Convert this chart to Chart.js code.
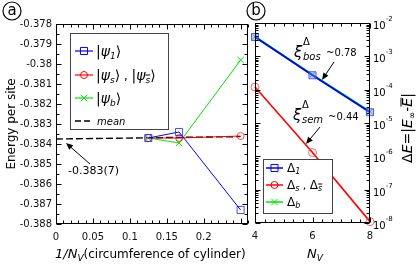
<!DOCTYPE html>
<html><head><meta charset="utf-8">
<script src="https://cdn.jsdelivr.net/npm/chart.js@4"></script>
<style>
html,body{margin:0;padding:0;background:#fff;}
#wrap{position:relative;width:416px;height:265px;overflow:hidden;}
canvas{position:absolute;left:0;top:0;}
</style></head><body>
<div id="wrap"><canvas id="cA" width="416" height="265"></canvas><canvas id="cB" width="416" height="265"></canvas></div>
<script>
// ---- data: panel (a) ----
const xTickLabels = ['0','0.05','0.1','0.15','0.2'];
const yTickLabels = ['-0.378','-0.379','-0.38','-0.381','-0.382','-0.383','-0.384','-0.385','-0.386','-0.387','-0.388'];
const invNv = [0.125, 0.1667, 0.25];
const psi1 = [-0.3837, -0.3834, -0.3873];
const psiS = [-0.3837, -0.3837, -0.3836];
const psiB = [-0.3837, -0.38395, -0.3798];
const meanX = [0, 0.25];
const meanY = [-0.38375, -0.38363];
// ---- data: panel (b) ----
const nvTickLabels = ['4','6','8'];
const logTickExps = ['-2','-3','-4','-5','-6','-7','-8'];
const nv = [4, 6, 8];
const delta1 = [3.8e-3, 2.7e-4, 2.1e-5];
const deltaS = [1.2e-4, 1.3e-6, 1.1e-8];
const deltaB = [3.9e-3, 2.8e-4, 2.2e-5];

const FF = "'DejaVu Sans', sans-serif";
Chart.defaults.font.family = FF;
Chart.defaults.color = '#000';
const BLUE = '#0000ff', RED = '#ff0000', GREEN = '#00e400';

function ser(xs, ys, color, style, r, w, extra) {
  return Object.assign({
    data: xs.map((x, i) => ({x: x, y: ys[i]})), showLine: true, tension: 0,
    borderColor: color, backgroundColor: 'rgba(0,0,0,0)', borderWidth: w,
    pointStyle: style, pointRadius: r, pointBorderColor: color,
    pointBackgroundColor: 'rgba(0,0,0,0)', pointBorderWidth: 1, clip: false
  }, extra || {});
}

function seq(ctx, x, y, parts) {
  ctx.textAlign = 'left'; ctx.textBaseline = 'alphabetic';
  for (const p of parts) {
    ctx.font = p[1];
    ctx.fillText(p[0], x, y + (p[2] || 0));
    const w = ctx.measureText(p[0]).width;
    if (p[3]) { // overline
      ctx.save(); ctx.lineWidth = 1; ctx.beginPath();
      ctx.moveTo(x, y + (p[2] || 0) + p[3]); ctx.lineTo(x + w, y + (p[2] || 0) + p[3]); ctx.stroke(); ctx.restore();
    }
    x += w;
  }
  return x;
}
function seqWidth(ctx, parts) {
  let w = 0;
  for (const p of parts) { ctx.font = p[1]; w += ctx.measureText(p[0]).width; }
  return w;
}
function marker(ctx, style, x, y, r, color, fill) {
  ctx.save(); ctx.strokeStyle = color; ctx.lineWidth = 1; ctx.beginPath();
  if (style === 'rect') { const s = r * Math.SQRT1_2; ctx.rect(x - s, y - s, 2 * s, 2 * s); if (fill) { ctx.fillStyle = fill; ctx.fill(); } }
  else if (style === 'circle') { ctx.arc(x, y, r, 0, Math.PI * 2); }
  else { const s = r * Math.SQRT1_2; ctx.moveTo(x - s, y - s); ctx.lineTo(x + s, y + s); ctx.moveTo(x + s, y - s); ctx.lineTo(x - s, y + s); }
  ctx.stroke(); ctx.restore();
}
function legLine(ctx, x1, x2, y, color, w, dash) {
  ctx.save(); ctx.strokeStyle = color; ctx.lineWidth = w; if (dash) ctx.setLineDash(dash);
  ctx.beginPath(); ctx.moveTo(x1, y); ctx.lineTo(x2, y); ctx.stroke(); ctx.restore();
}
function arrow(ctx, x1, y1, x2, y2) {
  ctx.save(); ctx.strokeStyle = '#000'; ctx.fillStyle = '#000'; ctx.lineWidth = 1;
  const ang = Math.atan2(y2 - y1, x2 - x1), L = 7, W = 3;
  ctx.beginPath(); ctx.moveTo(x1, y1); ctx.lineTo(x2 - Math.cos(ang) * L * 0.8, y2 - Math.sin(ang) * L * 0.8); ctx.stroke();
  ctx.beginPath(); ctx.moveTo(x2, y2);
  ctx.lineTo(x2 - L * Math.cos(ang) + W * Math.sin(ang), y2 - L * Math.sin(ang) - W * Math.cos(ang));
  ctx.lineTo(x2 - L * Math.cos(ang) - W * Math.sin(ang), y2 - L * Math.sin(ang) + W * Math.cos(ang));
  ctx.closePath(); ctx.fill(); ctx.restore();
}
function circled(ctx, ch, x, y) {
  ctx.save(); ctx.strokeStyle = '#000'; ctx.lineWidth = 1.2; ctx.beginPath(); ctx.arc(x, y, 9, 0, Math.PI * 2); ctx.stroke();
  ctx.fillStyle = '#000'; ctx.font = '15px ' + FF; ctx.textAlign = 'center'; ctx.textBaseline = 'middle';
  ctx.fillText(ch, x, y); ctx.restore();
}
function frame(ctx, a) {
  const L = Math.round(a.left) + 0.5, R = Math.round(a.right) - 0.5, T = Math.round(a.top) + 0.5, B = Math.round(a.bottom) - 0.5;
  ctx.strokeStyle = '#000'; ctx.lineWidth = 1; ctx.strokeRect(L, T, R - L, B - T);
  return {L, R, T, B};
}

const panelA = {
  id: 'panelA',
  afterDatasetsDraw(chart) {
    const {ctx, chartArea: a} = chart; const sx = chart.scales.x, sy = chart.scales.y;
    ctx.save();
    const f = frame(ctx, a);
    ctx.beginPath();
    for (let k = 0; k <= 26; k++) {
      const px = Math.round(sx.getPixelForValue(k / 100)) + 0.5, len = k % 5 === 0 ? 5 : 3;
      ctx.moveTo(px, f.B); ctx.lineTo(px, f.B - len); ctx.moveTo(px, f.T); ctx.lineTo(px, f.T + len);
    }
    for (let k = 0; k <= 20; k++) {
      const py = Math.round(sy.getPixelForValue(-0.378 - k * 0.0005)) + 0.5, len = k % 2 === 0 ? 5 : 3;
      ctx.moveTo(f.L, py); ctx.lineTo(f.L + len, py); ctx.moveTo(f.R, py); ctx.lineTo(f.R - len, py);
    }
    ctx.stroke(); ctx.restore();
  },
  afterDraw(chart) {
    const ctx = chart.ctx; ctx.save(); ctx.fillStyle = '#000'; ctx.strokeStyle = '#000';
    // legend
    ctx.fillStyle = '#fff'; ctx.fillRect(70.5, 33.5, 98, 96);
    ctx.strokeStyle = '#444'; ctx.lineWidth = 1; ctx.strokeRect(70.5, 33.5, 98, 96);
    ctx.fillStyle = '#000'; ctx.strokeStyle = '#000';
    const K = '14px ' + FF, KI = 'italic 14px ' + FF, S = 'italic 9px ' + FF;
    legLine(ctx, 75, 93, 51, BLUE, 1.2); marker(ctx, 'rect', 84, 51, 5, BLUE);
    seq(ctx, 96, 56, [['|', K], ['ψ', KI], ['1', S, 3], ['⟩', K]]);
    legLine(ctx, 75, 93, 75, RED, 1.2); marker(ctx, 'circle', 84, 75, 3.5, RED);
    seq(ctx, 96, 80, [['|', K], ['ψ', KI], ['s', S, 3], ['⟩', K], [' , ', '12px ' + FF], ['|', K], ['ψ', KI], ['s', S, 3, -8], ['⟩', K]]);
    legLine(ctx, 75, 93, 98, GREEN, 1.2); marker(ctx, 'cross', 84, 98, 4.5, GREEN);
    seq(ctx, 96, 103, [['|', K], ['ψ', KI], ['b', S, 3], ['⟩', K]]);
    legLine(ctx, 75, 93, 121, '#000', 1.6, [6, 3]);
    seq(ctx, 97, 125, [['mean', 'italic 10px ' + FF]]);
    // annotation
    ctx.fillStyle = '#000';
    seq(ctx, 68, 174, [['-0.383(7)', '11px ' + FF]]);
    arrow(ctx, 90, 164, 66, 143);
    // x title
    seq(ctx, 55, 258, [['1/N', 'italic 13px ' + FF], ['V', 'italic 9px ' + FF, 3], ['(circumference of cylinder)', '12px ' + FF]]);
    circled(ctx, 'a', 12, 11);
    ctx.restore();
  }
};

const panelB = {
  id: 'panelB',
  afterDatasetsDraw(chart) {
    const {ctx, chartArea: a} = chart; const sx = chart.scales.x, sy = chart.scales.y;
    ctx.save();
    const f = frame(ctx, a);
    ctx.beginPath();
    for (let k = 0; k <= 12; k++) {
      const px = Math.round(sx.getPixelForValue(4 + k / 3)) + 0.5, len = k % 6 === 0 ? 5 : 3;
      ctx.moveTo(px, f.B); ctx.lineTo(px, f.B - len); ctx.moveTo(px, f.T); ctx.lineTo(px, f.T + len);
    }
    for (let e = -8; e <= -2; e++) {
      for (let m = 1; m <= 9; m++) {
        const v = m * Math.pow(10, e); if (v > 1.0001e-2) break;
        const py = Math.round(sy.getPixelForValue(v)) + 0.5, len = m === 1 ? 5 : 3;
        ctx.moveTo(f.L, py); ctx.lineTo(f.L + len, py); ctx.moveTo(f.R, py); ctx.lineTo(f.R - len, py);
      }
    }
    ctx.stroke();
    // y tick labels (10^n)
    ctx.fillStyle = '#000';
    for (const e of logTickExps) {
      const py = sy.getPixelForValue(Math.pow(10, parseFloat(e)));
      seq(ctx, 373, py + 6, [['10', '10px ' + FF], [e, '7px ' + FF, -8]]);
    }
    ctx.restore();
  },
  afterDraw(chart) {
    const ctx = chart.ctx; ctx.save(); ctx.fillStyle = '#000';
    // legend
    ctx.fillStyle = '#fff'; ctx.fillRect(263.5, 159.5, 69, 54);
    ctx.strokeStyle = '#444'; ctx.lineWidth = 1; ctx.strokeRect(263.5, 159.5, 69, 54);
    ctx.fillStyle = '#000'; ctx.strokeStyle = '#000';
    const D = '12px ' + FF, S = 'italic 8px ' + FF;
    legLine(ctx, 266, 283, 168, BLUE, 1.5); marker(ctx, 'rect', 274.5, 168, 5, BLUE);
    seq(ctx, 287, 172, [['Δ', D], ['1', S, 2]]);
    legLine(ctx, 266, 283, 185, RED, 1.5); marker(ctx, 'circle', 274.5, 185, 3.5, RED);
    seq(ctx, 287, 189, [['Δ', D], ['s', S, 2], [' , ', '11px ' + FF], ['Δ', D], ['s', S, 2, -7]]);
    legLine(ctx, 266, 283, 202, GREEN, 1.5); marker(ctx, 'cross', 274.5, 202, 4.5, GREEN);
    seq(ctx, 287, 206, [['Δ', D], ['b', S, 2]]);
    // annotations
    seq(ctx, 294, 57, [['ξ', 'italic 15px ' + FF]]);
    seq(ctx, 303, 45, [['Δ', '10px ' + FF]]);
    seq(ctx, 303, 60, [['bos', 'italic 10px ' + FF]]);
    seq(ctx, 326, 56, [['~0.78', '10px ' + FF]]);
    arrow(ctx, 334, 62, 322, 80);
    seq(ctx, 293, 120, [['ξ', 'italic 15px ' + FF]]);
    seq(ctx, 302, 108, [['Δ', '10px ' + FF]]);
    seq(ctx, 302, 123, [['sem', 'italic 10px ' + FF]]);
    seq(ctx, 328, 120, [['~0.44', '10px ' + FF]]);
    arrow(ctx, 320, 127, 306, 144);
    // x title
    seq(ctx, 307, 258, [['N', 'italic 13px ' + FF], ['V', 'italic 9px ' + FF, 3]]);
    // y title rotated
    const T = '14px ' + FF, TI = 'italic 14px ' + FF;
    const parts = [['Δ', T], ['E', TI], ['=', T], ['|', T], ['E', TI], ['∞', '9px ' + FF, 3], ['-', T], ['E', TI, 0, -11], ['|', T]];
    const w = seqWidth(ctx, parts);
    ctx.translate(412, 128); ctx.rotate(-Math.PI / 2);
    seq(ctx, -w / 2, 0, parts);
    ctx.restore();
    circled(ctx, 'b', 256, 11);
  }
};

new Chart(document.getElementById('cA'), {
  type: 'scatter',
  data: {datasets: [
    ser(invNv, psi1, BLUE, 'rect', 5, 1, {pointBorderColor: 'rgba(0,0,255,0.7)'}),
    ser(invNv, psiS, RED, 'circle', 3.5, 1, {pointBorderColor: 'rgba(255,0,0,0.7)'}),
    ser(invNv, psiB, GREEN, 'crossRot', 4.5, 1),
    ser(meanX, meanY, '#000', 'circle', 0, 1.4, {borderDash: [7, 3]})
  ]},
  options: {
    responsive: false, animation: false, devicePixelRatio: 1,
    layout: {padding: {left: 0, right: 168, top: 24, bottom: 0}},
    plugins: {legend: {display: false}, tooltip: {enabled: false}},
    scales: {
      x: {type: 'linear', min: 0, max: 0.26,
        grid: {display: false, drawTicks: false}, border: {display: false},
        afterBuildTicks: s => { s.ticks = xTickLabels.map(l => ({value: parseFloat(l)})); },
        ticks: {callback: (v, i) => xTickLabels[i], padding: 7, font: {size: 10}, maxRotation: 0, autoSkip: false, color: '#111'},
        afterFit: s => { s.height = 41; }},
      y: {type: 'linear', min: -0.388, max: -0.378,
        grid: {display: false, drawTicks: false}, border: {display: false},
        afterBuildTicks: s => { s.ticks = yTickLabels.map(l => ({value: parseFloat(l)})); },
        ticks: {callback: (v, i) => yTickLabels[i], padding: 4, font: {size: 10}, autoSkip: false, color: '#111'},
        title: {display: true, text: 'Energy per site', font: {size: 12}, padding: {top: 5, bottom: 0}},
        afterFit: s => { s.width = 56; }}
    }
  },
  plugins: [panelA]
});

new Chart(document.getElementById('cB'), {
  type: 'scatter',
  data: {datasets: [
    ser(nv, delta1, BLUE, 'rect', 5, 2, {pointBackgroundColor: 'rgba(120,140,255,0.45)', pointBorderColor: 'rgba(40,60,255,0.8)'}),
    ser(nv, deltaS, RED, 'circle', 4, 1.6, {pointBorderColor: 'rgba(255,60,60,0.8)'}),
    ser(nv, deltaB, GREEN, 'crossRot', 4, 2)
  ]},
  options: {
    responsive: false, animation: false, devicePixelRatio: 1,
    layout: {padding: {left: 255, right: 0, top: 23, bottom: 0}},
    plugins: {legend: {display: false}, tooltip: {enabled: false}},
    scales: {
      x: {type: 'linear', min: 4, max: 8,
        grid: {display: false, drawTicks: false}, border: {display: false},
        afterBuildTicks: s => { s.ticks = nvTickLabels.map(l => ({value: parseFloat(l)})); },
        ticks: {callback: (v, i) => nvTickLabels[i], padding: 7, font: {size: 10}, maxRotation: 0, autoSkip: false, color: '#111'},
        afterFit: s => { s.height = 42; }},
      y: {type: 'logarithmic', position: 'right', min: 1e-8, max: 1e-2,
        grid: {display: false, drawTicks: false}, border: {display: false},
        afterBuildTicks: s => { s.ticks = logTickExps.map(e => ({value: Math.pow(10, parseFloat(e))})); },
        ticks: {display: false},
        afterFit: s => { s.width = 46; }}
    }
  },
  plugins: [panelB]
});
</script>
</body></html>
